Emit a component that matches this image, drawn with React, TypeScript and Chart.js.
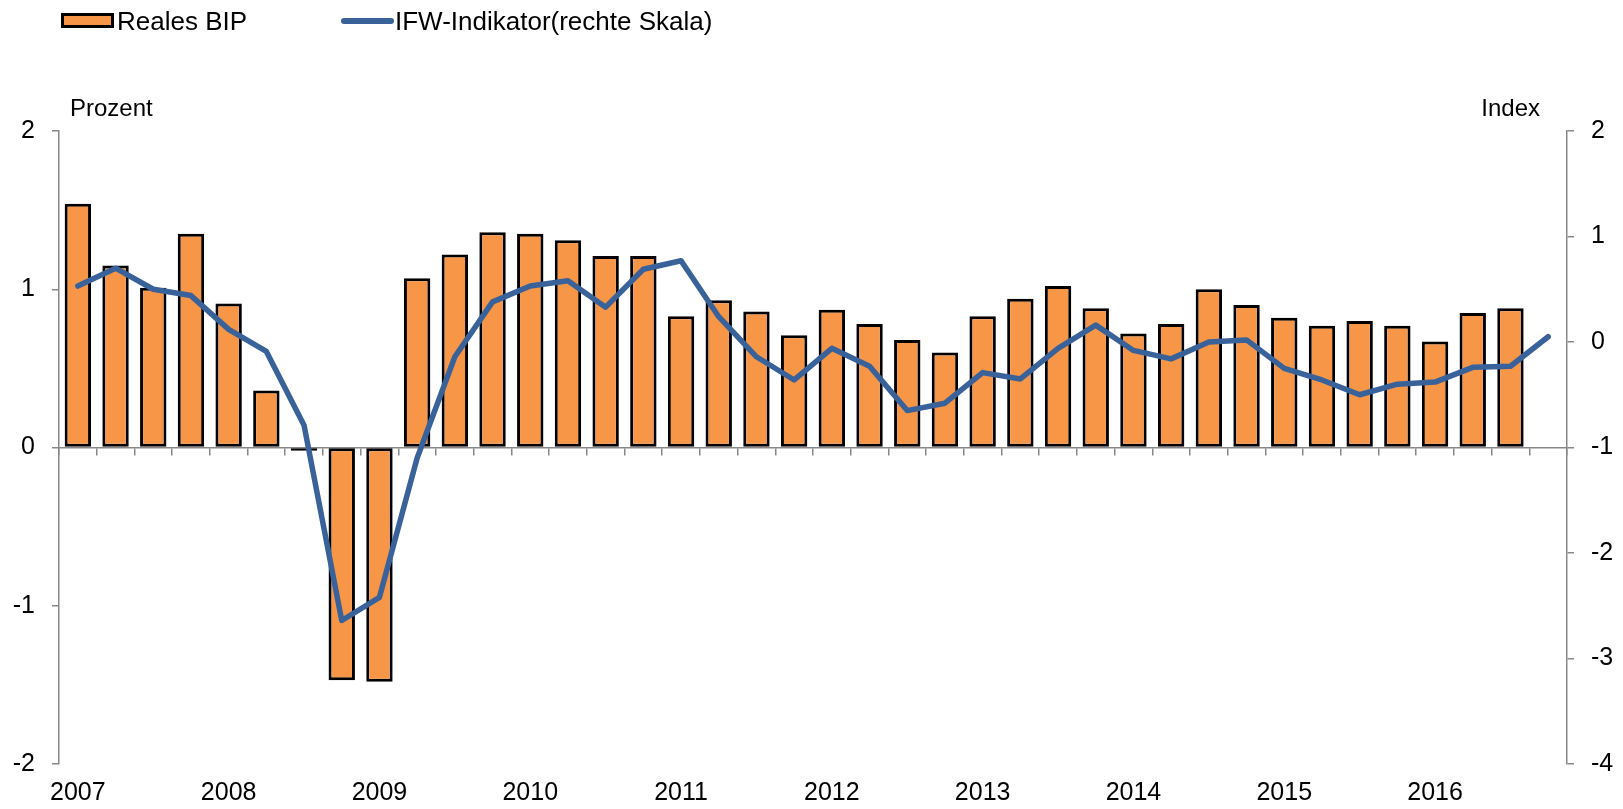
import React, { useEffect, useRef } from 'react';
import { Chart, registerables } from 'chart.js';

Chart.register(...registerables);

const years = ['2007', '2008', '2009', '2010', '2011', '2012', '2013', '2014', '2015', '2016'];
const quarters = ['Q1', 'Q2', 'Q3', 'Q4'];
const categories: string[] = years.flatMap((y) => quarters.map((q) => `${y} ${q}`));

// Reales BIP, Veränderung gegenüber Vorquartal in Prozent (linke Skala)
const realesBip: (number | null)[] = [
  1.54, 1.15, 1.01, 1.35,
  0.91, 0.36, -0.02, -1.47,
  -1.48, 1.07, 1.22, 1.36,
  1.35, 1.31, 1.21, 1.21,
  0.83, 0.93, 0.86, 0.71,
  0.87, 0.78, 0.68, 0.60,
  0.83, 0.94, 1.02, 0.88,
  0.72, 0.78, 1.00, 0.90,
  0.82, 0.77, 0.80, 0.77,
  0.67, 0.85, 0.88, null,
];

// IFW-Indikator (rechte Skala)
const ifwIndikator: number[] = [
  0.53, 0.70, 0.50, 0.44,
  0.12, -0.09, -0.79, -2.64,
  -2.42, -1.10, -0.14, 0.38,
  0.53, 0.58, 0.33, 0.69,
  0.77, 0.24, -0.14, -0.36,
  -0.06, -0.23, -0.65, -0.58,
  -0.29, -0.35, -0.06, 0.16,
  -0.08, -0.16, 0.00, 0.02,
  -0.25, -0.36, -0.50, -0.40,
  -0.38, -0.24, -0.23, 0.05,
];

const leftTicks = [-2, -1, 0, 1, 2];
const rightTicks = [-4, -3, -2, -1, 0, 1, 2];

const seriesLabels = ['Reales BIP', 'IFW-Indikator(rechte Skala)'];
const leftTitle = 'Prozent';
const rightTitle = 'Index';

const FONT = '"Liberation Sans", Arial, Helvetica, sans-serif';
const BAR_COLOR = '#F79646';
const LINE_COLOR = '#39629A';
const AXIS_COLOR = '#888888';

const overlayPlugin = {
  id: 'overlay',
  afterDraw(chart: any) {
    const ctx = chart.ctx as CanvasRenderingContext2D;
    const area = chart.chartArea;
    ctx.save();
    // legend item 1: bar
    ctx.fillStyle = BAR_COLOR;
    ctx.fillRect(62.5, 14.5, 50, 12);
    ctx.lineWidth = 3;
    ctx.strokeStyle = '#000';
    ctx.strokeRect(62.5, 14.5, 50, 12);
    ctx.fillStyle = '#000';
    ctx.font = `26px ${FONT}`;
    ctx.textBaseline = 'alphabetic';
    ctx.textAlign = 'left';
    ctx.fillText(seriesLabels[0], 117, 30);
    // legend item 2: line
    ctx.strokeStyle = LINE_COLOR;
    ctx.lineWidth = 6;
    ctx.lineCap = 'round';
    ctx.beginPath();
    ctx.moveTo(344, 21);
    ctx.lineTo(391, 21);
    ctx.stroke();
    ctx.fillText(seriesLabels[1], 395, 30);
    // axis titles
    ctx.font = `24px ${FONT}`;
    ctx.textAlign = 'left';
    ctx.fillText(leftTitle, area.left + 11, 116);
    ctx.textAlign = 'right';
    ctx.fillText(rightTitle, area.right - 27, 116);
    ctx.restore();
  },
};

export default function App() {
  const canvasRef = useRef<HTMLCanvasElement | null>(null);

  useEffect(() => {
    if (!canvasRef.current) return;
    const chart = new Chart(canvasRef.current, {
      data: {
        labels: categories,
        datasets: [
          {
            type: 'line',
            label: seriesLabels[1],
            data: ifwIndikator,
            borderColor: LINE_COLOR,
            backgroundColor: LINE_COLOR,
            borderWidth: 5.5,
            pointRadius: 0,
            pointHoverRadius: 0,
            tension: 0,
            borderCapStyle: 'round',
            borderJoinStyle: 'round',
            yAxisID: 'y1',
            xAxisID: 'x',
            order: 0,
          } as any,
          {
            type: 'bar',
            label: seriesLabels[0],
            data: realesBip,
            backgroundColor: BAR_COLOR,
            borderColor: '#000000',
            borderWidth: 3,
            borderSkipped: false,
            barPercentage: 0.7,
            categoryPercentage: 1,
            yAxisID: 'y',
            xAxisID: 'x',
            order: 1,
          } as any,
        ],
      },
      options: {
        animation: false,
        responsive: true,
        maintainAspectRatio: false,
        layout: { padding: { top: 131, left: 0, right: 0, bottom: 0 } },
        plugins: {
          legend: { display: false },
          tooltip: { enabled: false },
        },
        scales: {
          x: {
            type: 'category',
            position: 'bottom',
            offset: true,
            grid: { display: false, drawTicks: false },
            border: { display: false },
            ticks: {
              autoSkip: false,
              maxRotation: 0,
              minRotation: 0,
              padding: 14,
              color: '#000',
              font: { family: FONT, size: 25 },
              callback: (_v: any, i: number) => (i % 4 === 0 ? years[i / 4] : ''),
            },
            afterFit: (s: any) => {
              s.height = 45;
            },
          },
          x0: {
            type: 'category',
            position: { y: 0 },
            offset: true,
            grid: {
              display: true,
              offset: true,
              drawOnChartArea: false,
              drawTicks: true,
              tickLength: 7,
              color: AXIS_COLOR,
              lineWidth: 1.5,
            },
            border: { display: true, color: AXIS_COLOR, width: 1.5 },
            ticks: { display: false, autoSkip: false },
          },
          y: {
            type: 'linear',
            position: 'left',
            min: leftTicks[0],
            max: leftTicks[leftTicks.length - 1],
            afterBuildTicks: (s: any) => {
              s.ticks = leftTicks.map((v) => ({ value: v }));
            },
            ticks: {
              padding: 17,
              color: '#000',
              font: { family: FONT, size: 25 },
            },
            grid: {
              drawOnChartArea: false,
              drawTicks: true,
              tickLength: 7,
              color: AXIS_COLOR,
              lineWidth: 1.5,
            },
            border: { display: true, color: AXIS_COLOR, width: 1.5 },
            afterFit: (s: any) => {
              s.width = 59;
            },
          },
          y1: {
            type: 'linear',
            position: 'right',
            min: rightTicks[0],
            max: rightTicks[rightTicks.length - 1],
            afterBuildTicks: (s: any) => {
              s.ticks = rightTicks.map((v) => ({ value: v }));
            },
            ticks: {
              padding: 17,
              color: '#000',
              font: { family: FONT, size: 25 },
            },
            grid: {
              drawOnChartArea: false,
              drawTicks: true,
              tickLength: 7,
              color: AXIS_COLOR,
              lineWidth: 1.5,
            },
            border: { display: true, color: AXIS_COLOR, width: 1.5 },
            afterFit: (s: any) => {
              s.width = 56;
            },
          },
        },
      } as any,
      plugins: [overlayPlugin],
    });
    return () => chart.destroy();
  }, []);

  return (
    <div
      style={{
        position: 'absolute',
        left: 0,
        top: 0,
        width: '1623px',
        height: '809px',
        background: '#fff',
      }}
    >
      <canvas ref={canvasRef} />
    </div>
  );
}
